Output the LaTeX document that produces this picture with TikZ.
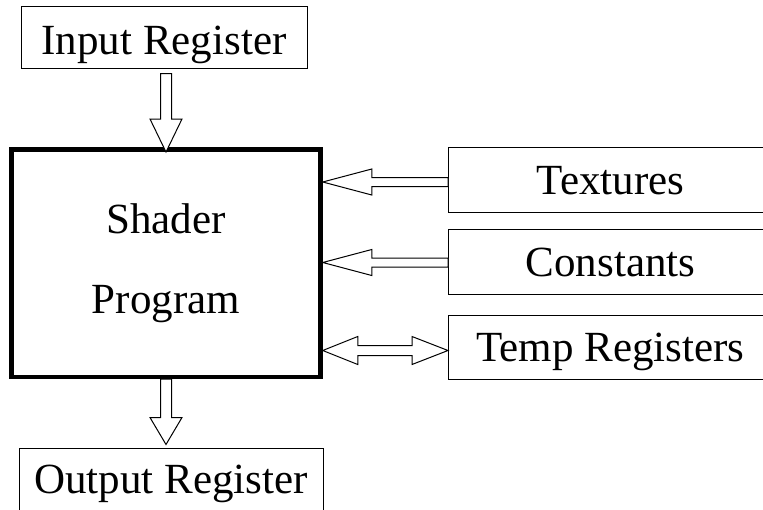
\documentclass[tikz,border=0pt]{standalone}
\usepackage{fontspec}
\setmainfont{Liberation Serif}
\usetikzlibrary{calc,positioning}

\begin{document}
\begin{tikzpicture}[x=1pt,y=-1pt,
        box/.style={draw, line width=1pt, inner sep=0pt, font=\fontsize{43}{80}\selectfont, text height=29pt, text depth=0pt},
        hollow/.style={draw, line width=1pt, fill=white, line join=miter}]
        \useasboundingbox (0,0) rectangle (763,509);
        \clip (0,0) rectangle (763,509);
        \node[box, minimum width=286pt, minimum height=62pt, text height=35pt] (in) at (164,37) {Input Register};
        \node[draw, line width=4.5pt, inner sep=0pt, minimum width=309pt, minimum height=227.5pt, align=center, font=\fontsize{43}{80}\selectfont] (shader) at (166,263) {Shader\\Program};
        \node[box, anchor=west, minimum width=324pt, minimum height=65pt] (tex) at (448,179.5) {Textures};
        \node[box, below=16pt of tex, minimum width=324pt, minimum height=65pt] (const) {Constants};
        \node[box, below=20pt of const, minimum width=324pt, minimum height=64pt] (temp) {Temp Registers};
        \node[box, minimum width=304pt, minimum height=62pt] (out) at (171,479) {Output Register};
        % arrow tips
        \coordinate (p) at ($(shader.north)+(0,5)$);
        \coordinate (q) at ($(out.north -| shader.south)+(0,-3)$);
        \coordinate (r1) at ($(tex.west -| shader.east)+(0,2.5)$);
        \coordinate (r2) at ($(const.west -| shader.east)+(0,1)$);
        \coordinate (r3) at ($(temp.west -| shader.east)+(0,3.5)$);
        % input / output
        \draw[hollow] ($(in.south -| p)+(-5.5,5)$) -- ($(in.south -| p)+(5.5,5)$) -- ($(p)+(5.5,-33)$) -- ($(p)+(16,-33)$) -- (p) -- ($(p)+(-16,-33)$) -- ($(p)+(-5.5,-33)$) -- cycle;
        \draw[hollow] ($(shader.south)+(-5.5,0)$) -- ($(shader.south)+(5.5,0)$) -- ($(q)+(5.5,-27)$) -- ($(q)+(16,-27)$) -- (q) -- ($(q)+(-16,-27)$) -- ($(q)+(-5.5,-27)$) -- cycle;
        % textures, constants
        \draw[hollow] (r1) -- ++(49,-13) -- ++(0,8.5) -- ($(r1 -| tex.west)+(0,-4.5)$) -- ++(0,9) -- ($(r1)+(49,4.5)$) -- ++(0,8.5) -- cycle;
        \draw[hollow] (r2) -- ++(49,-13) -- ++(0,8.5) -- ($(r2 -| const.west)+(0,-4.5)$) -- ++(0,9) -- ($(r2)+(49,4.5)$) -- ++(0,8.5) -- cycle;
        % temp registers, both ways
        \draw[hollow] (r3) -- ++(35,-14) -- ++(0,9) -- ($(r3 -| temp.west)+(-36,-5)$) -- ++(0,-9) -- (r3 -| temp.west) -- ++(-36,14) -- ++(0,-9) -- ($(r3)+(35,5)$) -- ++(0,9) -- cycle;
    \end{tikzpicture}
\end{document}
